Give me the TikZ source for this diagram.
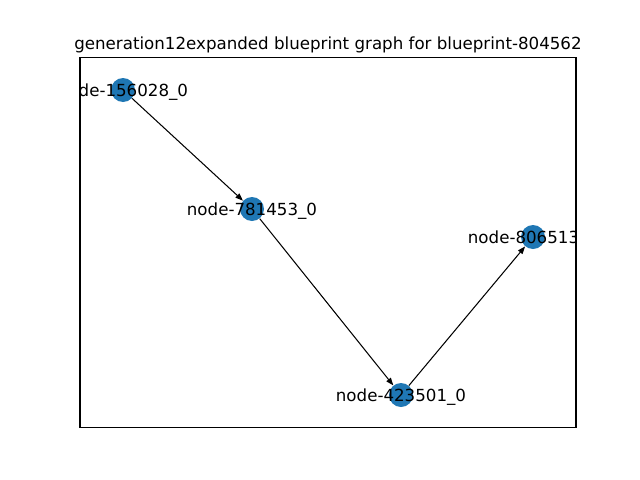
\documentclass[tikz,border=0pt]{standalone}
\usepackage{fontspec}
\setmainfont{DejaVu Sans}
\usetikzlibrary{arrows.meta}
\definecolor{nodeblue}{HTML}{1F77B4}
\tikzset{
  gnode/.style={circle,fill=nodeblue,minimum size=17.28pt,inner sep=0pt},
  glabel/.style={font=\fontsize{12}{14}\selectfont,inner sep=0pt,anchor=center},
  garrow/.style={-{Triangle[length=5.5pt,width=4pt]},line width=0.75pt,black}
}
\begin{document}
\begin{tikzpicture}[x=0.72pt,y=-0.72pt]
        \useasboundingbox (0,0) rectangle (640,480);

        %titulo
        \node[glabel,anchor=base] (titulo) at (328,49.3){generation12expanded blueprint graph for blueprint-804562};

        \begin{scope}
        \clip (80,57.6) rectangle (576,427.2);
        \node[gnode] (n1) at (123,90){};
        \node[gnode] (n2) at (252,209){};
        \node[gnode] (n3) at (401,395){};
        \node[gnode] (n4) at (533,237){};

        \draw[garrow] (n1) -- (n2);
        \draw[garrow] (n2) -- (n3);
        \draw[garrow] (n3) -- (n4);

        \node[glabel,yshift=-1.2pt] (l1) at (n1){node-156028\_0};
        \node[glabel,yshift=-1.2pt] (l2) at (n2){node-781453\_0};
        \node[glabel,yshift=-1.2pt] (l3) at (n3){node-423501\_0};
        \node[glabel,yshift=-1.2pt] (l4) at (n4){node-806513\_0};
        \end{scope}

        %marco
        \draw[black,line width=0.8pt] (80,57.6) rectangle (576,427.2);
\end{tikzpicture}
\end{document}
